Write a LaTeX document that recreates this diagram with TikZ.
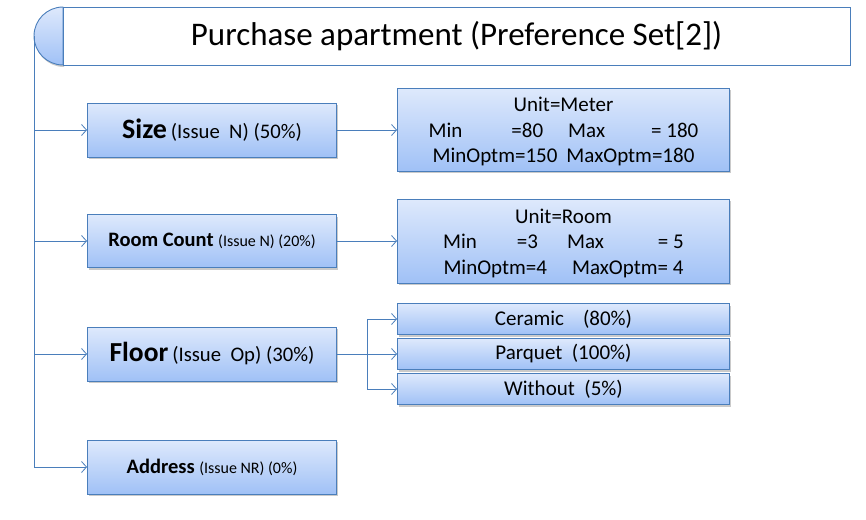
\documentclass[tikz,border=0pt]{standalone}
\usepackage{fontspec}
\setmainfont{Carlito}
\usetikzlibrary{arrows.meta,shadows}
\definecolor{bline}{RGB}{74,126,187}
\definecolor{gtop}{RGB}{222,233,252}
\definecolor{gbot}{RGB}{160,193,246}
\newcommand{\fsz}[2]{\fontsize{#1}{#2}\selectfont}
\begin{document}
\begin{tikzpicture}[x=1pt,y=-1pt,
  boxstyle/.style={draw=bline, line width=0.9pt, top color=gtop, bottom color=gbot,
    drop shadow={shadow xshift=1pt, shadow yshift=-2pt, opacity=0.35, fill=black!60},
    inner sep=0pt, align=center, text=black},
  conn/.style={draw=bline, line width=0.8pt},
  arr/.style={conn, -{Straight Barb[length=5pt,width=11pt,line width=0.8pt]}}
]
\useasboundingbox (0,0) rectangle (866,519);

% title
\shade[top color=gtop, bottom color=gbot, draw=bline, line width=0.9pt,
  drop shadow={shadow xshift=1pt, shadow yshift=-2pt, opacity=0.35, fill=black!60}]
  (63,7) arc[start angle=270, end angle=90, radius=29] -- cycle;
\node[draw=bline, line width=0.9pt, fill=white, minimum width=787, minimum height=58, inner sep=0pt]
  (title) at (456.5,36) {\fsz{33}{38}Purchase apartment (Preference Set[2])};
\coordinate (spine) at (34,36);

% left boxes
\node[boxstyle, minimum width=249, minimum height=54] (size) at (212,130)
  {{\fsz{28}{30}\bfseries Size}\hspace{4pt}{\fsz{20.7}{24}(Issue\ \ N) (50\%)}};
\node[boxstyle, minimum width=249, minimum height=53] (room) at (212,241)
  {{\fsz{20.5}{24}\bfseries Room Count}\ \ {\fsz{16}{20}(Issue N) (20\%)}};
\node[boxstyle, minimum width=249, minimum height=54] (floor) at (212,354)
  {{\fsz{27.5}{30}\bfseries Floor}\hspace{4pt}{\fsz{20.7}{24}(Issue\ \ Op) (30\%)}};
\node[boxstyle, minimum width=249, minimum height=54] (address) at (212,467)
  {{\fsz{20.5}{24}\bfseries Address}\ \ {\fsz{16}{20}(Issue NR) (0\%)}};

% right boxes
\node[boxstyle, minimum width=332, minimum height=83, font=\fsz{21}{25.5}] (sized) at (563.5,129.5)
  {\rule{0pt}{19pt}Unit=Meter\\
   Min\hspace{49pt}=80\hspace{25pt}Max\hspace{46pt}= 180\\
   MinOptm=150\hspace{9pt}MaxOptm=180};
\node[boxstyle, minimum width=332, minimum height=84, font=\fsz{21}{25.5}] (roomd) at (563.5,241)
  {\rule{0pt}{19pt}Unit=Room\\
   Min\hspace{40pt}=3\hspace{29pt}Max\hspace{54pt}= 5\\
   MinOptm=4\hspace{25pt}MaxOptm= 4};
\node[boxstyle, minimum width=332, minimum height=31, font=\fsz{21}{24}] (ceramic) at (563.5,319)
  {Ceramic\ \ \ \ (80\%)};
\node[boxstyle, minimum width=332, minimum height=31, font=\fsz{21}{24}] (parquet) at (563.5,354)
  {Parquet\ \ (100\%)};
\node[boxstyle, minimum width=332, minimum height=31, font=\fsz{21}{24}] (without) at (563.5,389)
  {Without\ \ (5\%)};

% connectors
\draw[conn] (spine) -- (34,467);
\draw[arr] (spine) |- (size.west);
\draw[arr] (spine) |- (room.west);
\draw[arr] (spine) |- (floor.west);
\draw[arr] (spine) |- (address.west);
\draw[arr] (size.east) -- (sized.west |- size.east);
\draw[arr] (room.east) -- (roomd.west |- room.east);
\coordinate (fb) at (367,354);
\draw[conn] (floor.east) -- (fb);
\draw[arr] (fb) |- (ceramic.west);
\draw[arr] (fb) -- (parquet.west);
\draw[arr] (fb) |- (without.west);
\end{tikzpicture}
\end{document}
